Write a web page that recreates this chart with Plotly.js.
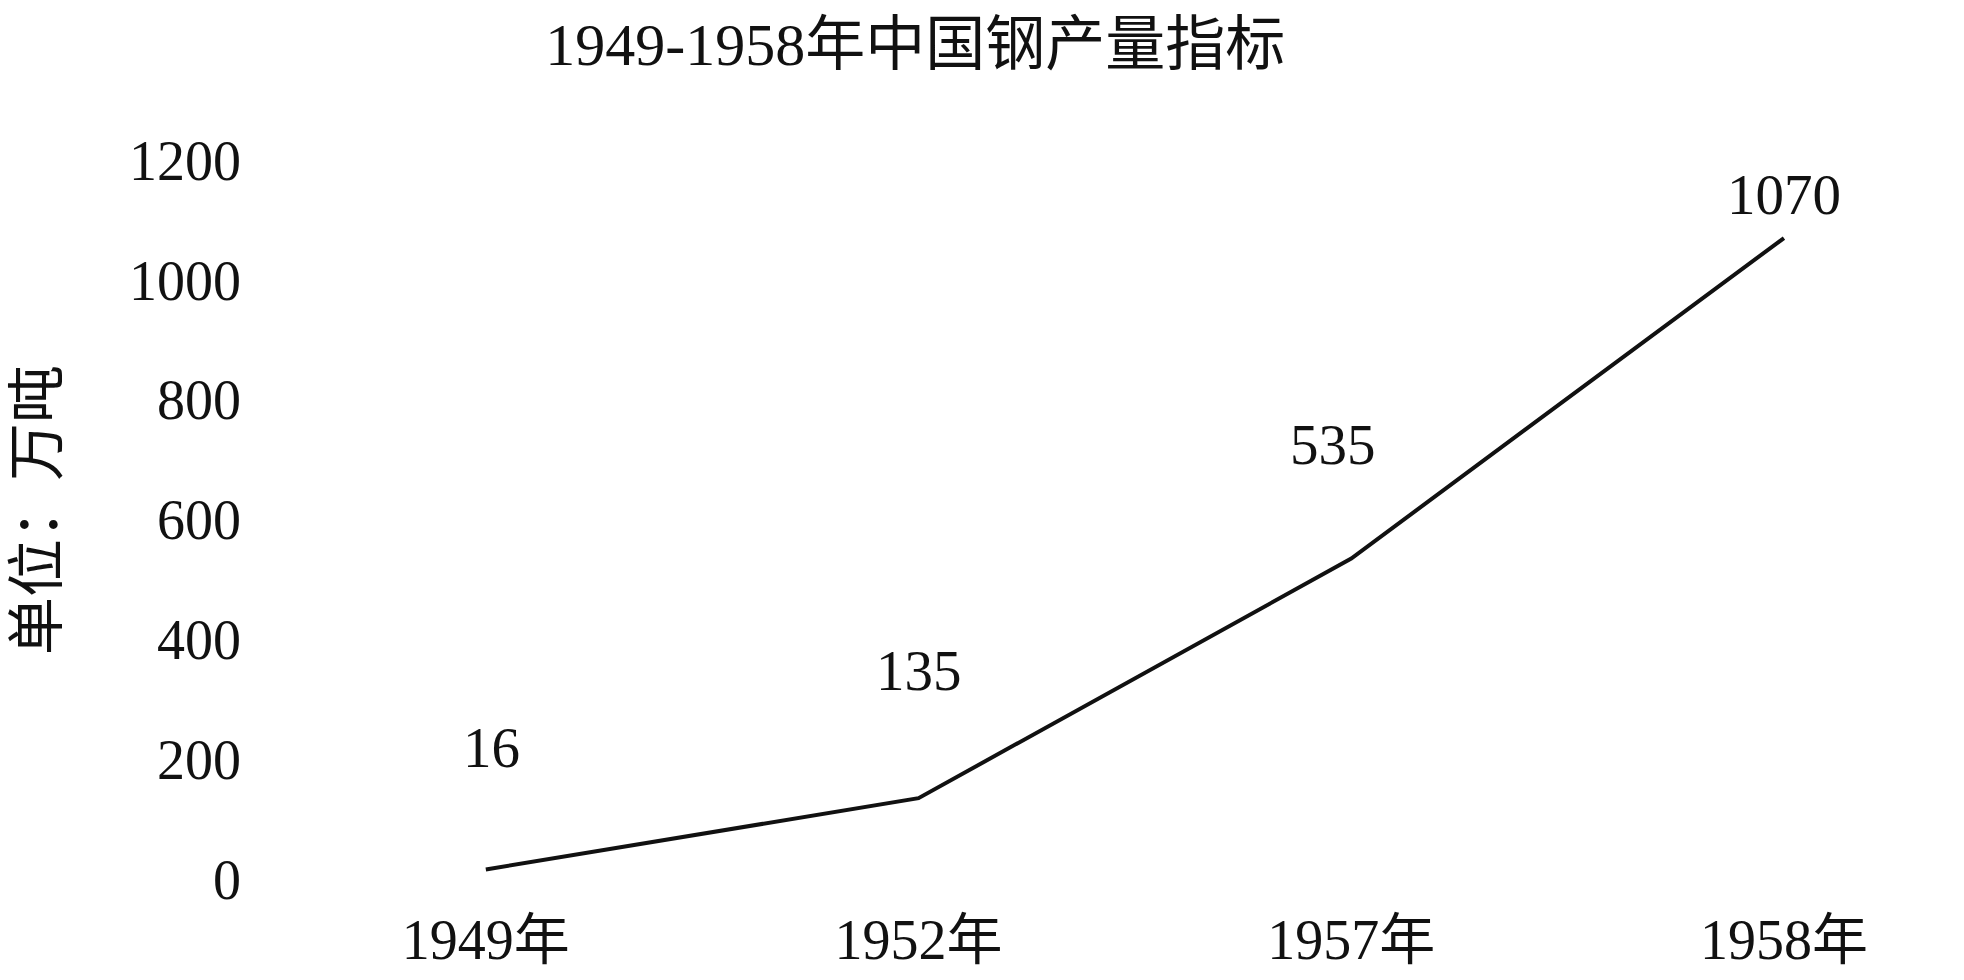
<!DOCTYPE html>
<html>
<head>
<meta charset="utf-8">
<script src="https://cdn.plot.ly/plotly-3.0.1.min.js"></script>
<style>html,body{margin:0;padding:0;background:#fff;}#chart{width:1964px;height:980px;}</style>
</head>
<body>
<div id="chart"></div>
<script>
const categories = ["1949年", "1952年", "1957年", "1958年"];
const steelOutput = [16, 135, 535, 1070];
const yTicks = [0, 200, 400, 600, 800, 1000, 1200];

// styling only: vertical pixel offsets of value labels above the line
const labelShift = [122, 128, 114, 44];

const FONT = "'Liberation Serif', 'Times New Roman', 'Noto Sans CJK SC', serif";

const trace = {
  x: categories,
  y: steelOutput,
  type: 'scatter',
  mode: 'lines',
  line: {color: '#111111', width: 4},
  hoverinfo: 'x+y'
};

const annotations = categories.map((c, i) => ({
  x: c, y: steelOutput[i], xref: 'x', yref: 'y',
  text: String(steelOutput[i]), showarrow: false,
  yshift: labelShift[i], xshift: i === 2 ? -18 : (i === 0 ? 6 : 0),
  font: {family: FONT, size: 57, color: '#111'}
}));

const layout = {
  width: 1964, height: 980,
  paper_bgcolor: '#fff', plot_bgcolor: '#fff',
  margin: {l: 250, r: 100, t: 120, b: 80},
  showlegend: false,
  title: {
    text: '1949-1958年中国钢产量指标',
    font: {family: FONT, size: 60, color: '#111'},
    x: 0.466, xanchor: 'center', y: 0.955, yanchor: 'middle'
  },
  xaxis: {
    type: 'category', range: [-0.545, 3.185],
    showgrid: false, zeroline: false, showline: false, ticks: '',
    tickfont: {family: FONT, size: 56, color: '#111'},
    ticklabelstandoff: 2
  },
  yaxis: {
    range: [-35, 1267], tickvals: yTicks,
    showgrid: false, zeroline: false, showline: false, ticks: '',
    tickfont: {family: FONT, size: 56, color: '#111'},
    ticklabelstandoff: 8,
    title: {text: '单位：万吨', font: {family: FONT, size: 58, color: '#111'}, standoff: 52}
  },
  annotations: annotations
};

Plotly.newPlot('chart', [trace], layout, {displayModeBar: false, staticPlot: true});
</script>
</body>
</html>
